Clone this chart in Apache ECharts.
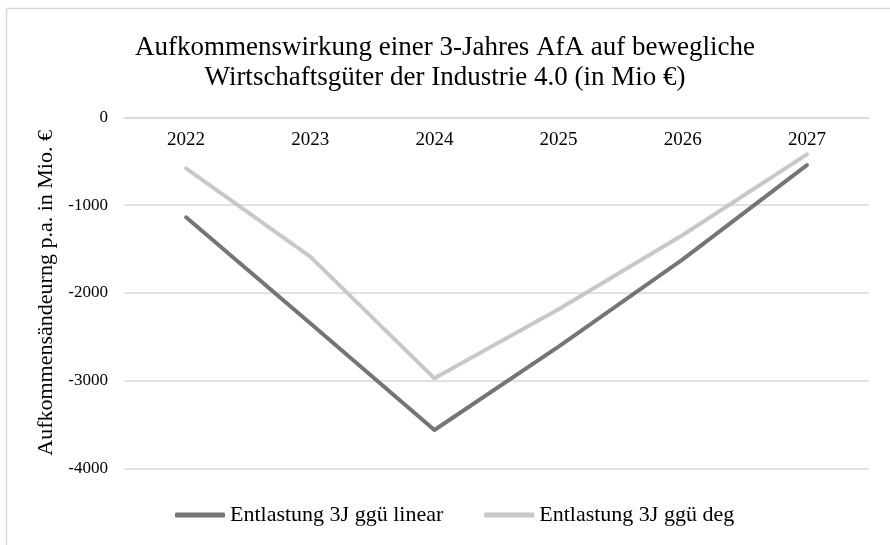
<!DOCTYPE html>
<html>
<head>
<meta charset="utf-8">
<script src="https://cdn.jsdelivr.net/npm/echarts@6/dist/echarts.min.js"></script>
<style>
html,body{margin:0;padding:0;background:#fff;}
#chart{width:890px;height:545px;}
</style>
</head>
<body>
<div id="chart"></div>
<script>
var titleText = 'Aufkommenswirkung einer 3-Jahres AfA auf bewegliche\nWirtschaftsgüter der Industrie 4.0 (in Mio €)';
var yAxisName = 'Aufkommensändeurng p.a. in Mio. €';
var categories = ['2022', '2023', '2024', '2025', '2026', '2027'];
var seriesNames = ['Entlastung 3J ggü linear', 'Entlastung 3J ggü deg'];
var linearValues = [-1138, -2345, -3563, -2613, -1617, -542];
var degValues = [-579, -1587, -2974, -2187, -1340, -420];
var yTicks = { min: -4000, max: 0, interval: 1000 };

var font = '"Liberation Serif", "Times New Roman", serif';
var chart = echarts.init(document.getElementById('chart'), null, { renderer: 'canvas' });
chart.setOption({
  backgroundColor: '#ffffff',
  animation: false,
  graphic: [{
    type: 'rect',
    shape: { x: 6.5, y: 8.5, width: 1000, height: 1000 },
    style: { fill: 'none', stroke: '#d9d9d9', lineWidth: 1.5 },
    silent: true
  }],
  title: {
    text: titleText,
    left: 'center',
    top: 33,
    padding: 0,
    textStyle: { fontFamily: font, fontSize: 27, fontWeight: 'normal', color: '#000', lineHeight: 30 }
  },
  legend: {
    data: seriesNames,
    left: 175,
    top: 504,
    padding: 0,
    itemWidth: 50,
    itemHeight: 5,
    itemGap: 41,
    icon: 'roundRect',
    textStyle: { fontFamily: font, fontSize: 22, color: '#000' }
  },
  grid: { left: 124, right: 21, top: 117.5, bottom: 76.7, containLabel: false },
  xAxis: {
    type: 'category',
    data: categories,
    position: 'top',
    boundaryGap: true,
    axisLine: { show: true, onZero: false, lineStyle: { color: '#d9d9d9', width: 1.5 } },
    axisTick: { show: false },
    axisLabel: { inside: true, fontFamily: font, fontSize: 19, color: '#000', margin: 13 },
    splitLine: { show: false }
  },
  yAxis: {
    type: 'value',
    min: yTicks.min,
    max: yTicks.max,
    interval: yTicks.interval,
    name: yAxisName,
    nameLocation: 'middle',
    nameGap: 49,
    nameTextStyle: { fontFamily: font, fontSize: 22, color: '#000' },
    axisLine: { show: false },
    axisTick: { show: false },
    axisLabel: { fontFamily: font, fontSize: 17, color: '#000', margin: 16, formatter: function (v) { return String(v); } },
    splitLine: { show: true, lineStyle: { color: '#d9d9d9', width: 1.5 } }
  },
  series: [
    {
      name: seriesNames[0],
      type: 'line',
      data: linearValues,
      showSymbol: false,
      symbol: 'none',
      color: '#767575',
      lineStyle: { width: 4, color: '#767575', cap: 'round', join: 'round' }
    },
    {
      name: seriesNames[1],
      type: 'line',
      data: degValues,
      showSymbol: false,
      symbol: 'none',
      color: '#c8c8c8',
      lineStyle: { width: 4, color: '#c8c8c8', cap: 'round', join: 'round' }
    }
  ]
});
</script>
</body>
</html>
